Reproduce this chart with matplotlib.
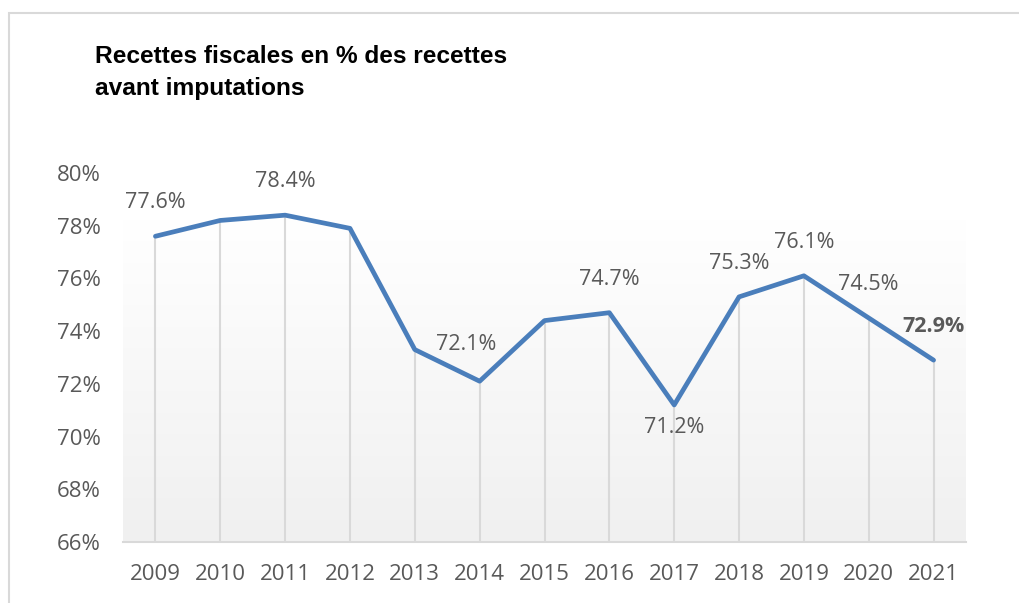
import matplotlib
matplotlib.use("Agg")
import matplotlib.pyplot as plt
import numpy as np
from matplotlib.patches import Rectangle

years = ["2009", "2010", "2011", "2012", "2013", "2014", "2015", "2016",
         "2017", "2018", "2019", "2020", "2021"]
values = [77.6, 78.2, 78.4, 77.9, 73.3, 72.1, 74.4, 74.7, 71.2, 75.3, 76.1, 74.5, 72.9]
labeled = {"2009": 77.6, "2011": 78.4, "2014": 72.1, "2016": 74.7, "2017": 71.2,
           "2018": 75.3, "2019": 76.1, "2020": 74.5, "2021": 72.9}
yticks = [66, 68, 70, 72, 74, 76, 78, 80]
title_lines = ["Recettes fiscales en % des recettes", "avant imputations"]

W, H, DPI = 1019, 603, 100
fig = plt.figure(figsize=(W / DPI, H / DPI), dpi=DPI)
fig.patch.set_facecolor("white")

# figure border (top and left visible)
fig.add_artist(Rectangle((9 / W, -0.1), 1.2, (H - 13) / H + 0.1, transform=fig.transFigure,
                         fill=False, edgecolor="#d9d9d9", linewidth=1.5))

left, right, top, bottom = 123, 966, 173, 542
ax = fig.add_axes([left / W, 1 - bottom / H, (right - left) / W, (bottom - top) / H])
x = np.arange(len(years))
ax.set_xlim(-0.5, len(years) - 0.5)
ax.set_ylim(66, 80)

# gradient fill
grad_top = 0.873
g = np.linspace(0, 1, 256).reshape(-1, 1)
ax.imshow(g, extent=(-0.5, len(years) - 0.5, 66, 66 + 14 * grad_top), aspect="auto",
          cmap=matplotlib.colors.LinearSegmentedColormap.from_list("g", ["#f0f0f0", "#ffffff"]),
          origin="lower", zorder=0)

ax.vlines(x, 66, values, colors="#d9d9d9", linewidth=1.5, zorder=1)
ax.plot(x, values, color="#4a7ebb", linewidth=3.4, solid_joinstyle="round",
        solid_capstyle="round", zorder=3)

for s in ["top", "right", "left"]:
    ax.spines[s].set_visible(False)
ax.spines["bottom"].set_color("#d9d9d9")
ax.spines["bottom"].set_linewidth(1.5)

font = "Open Sans"
ax.set_yticks(yticks)
ax.set_yticklabels([f"{v}%" for v in yticks], fontsize=16, color="#595959", family=font)
ax.set_xticks(x)
ax.set_xticklabels(years, fontsize=16, color="#595959", family=font)
ax.tick_params(length=0)
ax.tick_params(axis="y", pad=16)
ax.tick_params(axis="x", pad=16)

offsets = {"2009": (0, 24), "2011": (0, 24), "2014": (-10, 26.5), "2016": (0, 24),
           "2017": (0, -16.5), "2018": (0, 24), "2019": (0, 24), "2020": (0, 24), "2021": (0, 24)}
for yr, v in labeled.items():
    i = years.index(yr)
    dx, dy = offsets[yr]
    bold = yr == "2021"
    ax.annotate(f"{v:.1f}%", (i, values[i]), xytext=(dx, dy), textcoords="offset points",
                ha="center", va="center", fontsize=15.5, color="#595959", family=font,
                fontweight="bold" if bold else "normal", zorder=4)

title_texts = []
for line, base in zip(title_lines, [63, 95]):
    t = fig.text(95 / W, 1 - base / H, line, fontsize=18, fontweight="bold",
                 family="Liberation Sans", color="black", va="baseline", ha="left")
    title_texts.append(t)

# fit the first title line to the reference width (~413 px)
renderer = fig.canvas.get_renderer()
w0 = title_texts[0].get_window_extent(renderer).width
size = 18 * 413 / w0
for t in title_texts:
    t.set_fontsize(size)

fig.savefig("out.png", dpi=DPI)
